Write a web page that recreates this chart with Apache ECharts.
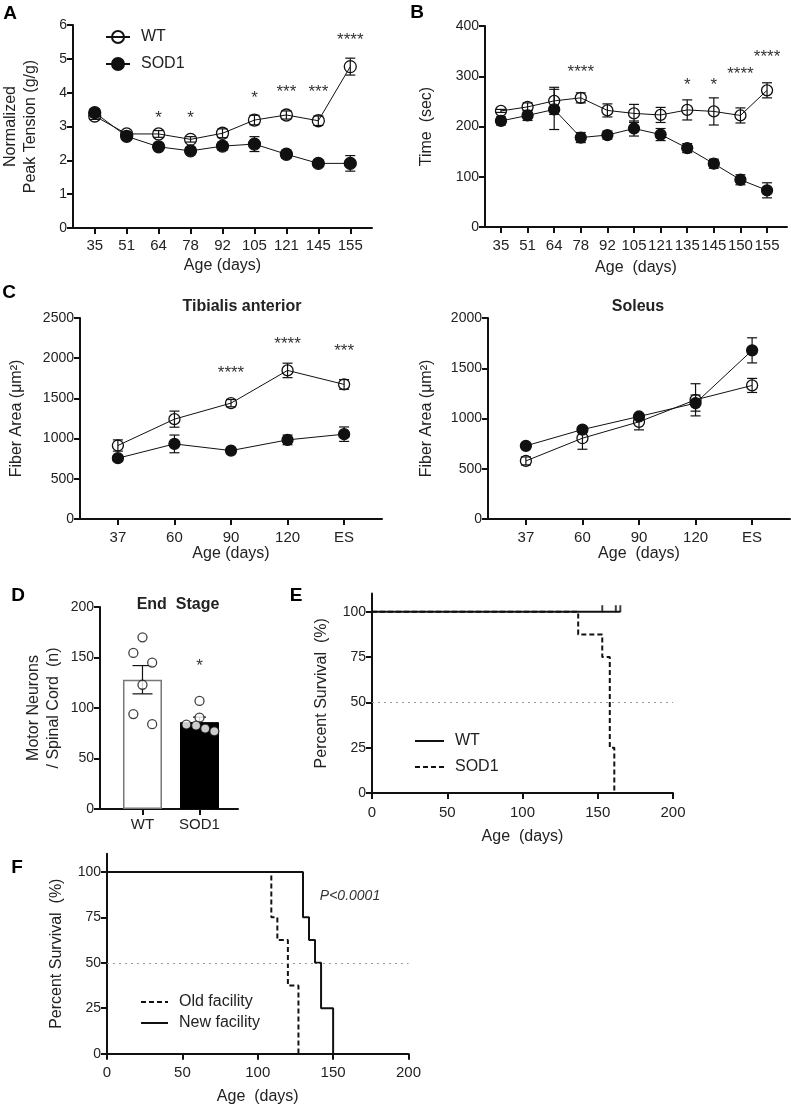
<!DOCTYPE html>
<html><head><meta charset="utf-8">
<script src="https://cdn.jsdelivr.net/npm/echarts@6/dist/echarts.min.js"></script>
<style>html,body{margin:0;padding:0;background:#fff}#c{width:791px;height:1109px}</style>
</head><body><div id="c"></div>
<script>
// ---------------- DATA ----------------
// Panel A: normalized peak tension (g/g)
const agesA = ['35','51','64','78','92','105','121','145','155'];
const wtA = [3.31,2.78,2.78,2.62,2.80,3.19,3.34,3.17,4.77];
const wtA_sem = [0.10,0.05,0.10,0.08,0.13,0.14,0.12,0.14,0.25];
const sodA = [3.41,2.71,2.40,2.28,2.42,2.48,2.18,1.91,1.91];
const sodA_sem = [0.12,0.05,0.05,0.08,0.12,0.22,0.12,0.10,0.23];
const sigA_idx = [2,3,5,6,7,8];
const sigA_txt = ['*','*','*','***','***','****'];
const sigA_y = [3.34,3.34,3.93,4.1,4.1,5.65];
const ticksA = [0,1,2,3,4,5,6];

// Panel B: rotarod time (sec)
const agesB = ['35','51','64','78','92','105','121','135','145','150','155'];
const wtB = [231,239,251,257,232,226,223,233,230,222,272];
const wtB_sem = [3,8,27,10,13,18,15,20,27,15,15];
const sodB = [211,222,234,178,183,196,184,157,126,94,73];
const sodB_sem = [8,10,40,10,8,15,12,9,9,10,15];
const sigB_idx = [3,7,8,9,10];
const sigB_txt = ['****','*','*','****','****'];
const sigB_y = [314,287,287,310,344];
const ticksB = [0,100,200,300,400];

// Panel C: fiber area (um^2)
const agesC = ['37','60','90','120','ES'];
const wtTA = [914,1242,1441,1848,1674];
const wtTA_sem = [70,100,45,90,60];
const sodTA = [756,934,851,984,1055];
const sodTA_sem = [30,110,30,60,90];
const sigTA_idx = [2,3,4];
const sigTA_txt = ['****','****','***'];
const sigTA_y = [1847,2208,2126];
const ticksTA = [0,500,1000,1500,2000,2500];
const wtSol = [578,804,967,1186,1329];
const wtSol_sem = [40,110,80,160,70];
const sodSol = [728,890,1020,1153,1678];
const sodSol_sem = [20,25,25,80,125];
const ticksSol = [0,500,1000,1500,2000];

// Panel D: motor neurons at end stage
const groupsD = ['WT','SOD1'];
const meanD = [128,86];
const semD = [14,5];
const ptsWT = [170,154.5,145,123,94,84];
const ptsSOD = [107,90.5,83.6,82.6,79.6,76.9];
const sigD_txt = ['','*'];
const sigD_y = [null,144];
const ticksD = [0,50,100,150,200];

// Panel E: survival (death ages, percent surviving after)
const sodE_t = [0,137,153,158,161];
const sodE_s = [100,87.5,75,25,0];
const wtE_t = [0,165];
const wtE_s = [100,100];
const wtE_censor = [153,162,165];

// Panel F: survival old vs new facility
const oldF_t = [0,109,113,120,127];
const oldF_s = [100,75,62.5,37.5,0];
const newF_t = [0,130,134,138,142,150];
const newF_s = [100,75,62.5,50,25,0];
const ticksSurv = [0,25,50,75,100];
const ticksAge = [0,50,100,150,200];
const medianLine = 50;

// ---------------- LAYOUT / STYLE ----------------
const FONT = '"Liberation Sans", Arial, Helvetica, sans-serif';
const INK = '#111', TXT = '#222';
const jitWT = [0,-0.16,0.17,0,-0.16,0.17];
const jitSOD = [0,0,-0.23,-0.06,0.1,0.26];

function xCat(gridIndex, labels, min, max, name, nameGap, margin) {
  const idx = labels.map((_, i) => i);
  return {
    type:'value', gridIndex, min, max, name, nameLocation:'middle', nameGap,
    nameTextStyle:{fontFamily:FONT,fontSize:16,color:TXT},
    axisLine:{show:true,onZero:false,lineStyle:{color:INK,width:2}},
    axisTick:{show:true,length:6,lineStyle:{color:INK,width:2},customValues:idx},
    axisLabel:{customValues:idx,margin,fontFamily:FONT,fontSize:15,color:TXT,hideOverlap:false,
      formatter:v=>labels[Math.round(v)]},
    splitLine:{show:false}
  };
}
function xNum(gridIndex, ticks, name, nameGap, margin) {
  return {
    type:'value', gridIndex, min:ticks[0], max:ticks[ticks.length-1], name, nameLocation:'middle', nameGap,
    nameTextStyle:{fontFamily:FONT,fontSize:16,color:TXT},
    axisLine:{show:true,onZero:false,lineStyle:{color:INK,width:2}},
    axisTick:{show:true,length:6,lineStyle:{color:INK,width:2},customValues:ticks},
    axisLabel:{customValues:ticks,margin,fontFamily:FONT,fontSize:15,color:TXT,formatter:v=>String(v)},
    splitLine:{show:false}
  };
}
function yNum(gridIndex, ticks, max, name, nameGap) {
  return {
    type:'value', gridIndex, min:0, max, name, nameLocation:'middle', nameGap, nameRotate:90,
    nameTextStyle:{fontFamily:FONT,fontSize:16,color:TXT,lineHeight:20},
    axisLine:{show:true,onZero:false,lineStyle:{color:INK,width:2}},
    axisTick:{show:true,length:6,lineStyle:{color:INK,width:2},customValues:ticks},
    axisLabel:{customValues:ticks,margin:6,fontFamily:FONT,fontSize:14,color:TXT,formatter:v=>String(v)},
    splitLine:{show:false}
  };
}
function errSeries(gi, means, sems, caps, z) {
  return {
    type:'custom', xAxisIndex:gi, yAxisIndex:gi, silent:true, z:z||4,
    data: means.map((m,i)=>[i,m,sems[i]]),
    encode:{x:0,y:1},
    renderItem:(params, api)=>{
      const x=api.value(0), y=api.value(1), e=api.value(2);
      const hi=api.coord([x,y+e]), lo=api.coord([x,y-e]);
      const w=(Array.isArray(caps)?caps[params.dataIndex]:caps)/2;
      const st={stroke:INK,lineWidth:1.2};
      return {type:'group',children:[
        {type:'line',shape:{x1:hi[0],y1:hi[1],x2:lo[0],y2:lo[1]},style:st},
        {type:'line',shape:{x1:hi[0]-w,y1:hi[1],x2:hi[0]+w,y2:hi[1]},style:st},
        {type:'line',shape:{x1:lo[0]-w,y1:lo[1],x2:lo[0]+w,y2:lo[1]},style:st}
      ]};
    }
  };
}
function sigSeries(gi, idx, txt, ys) {
  return {
    type:'custom', xAxisIndex:gi, yAxisIndex:gi, silent:true, z:6,
    data: idx.map((p,k)=>[p,ys[k]]), encode:{x:0,y:1},
    renderItem:(params, api)=>{
      const pt=api.coord([api.value(0),api.value(1)]);
      return {type:'text',x:pt[0],y:pt[1]+3,style:{text:txt[params.dataIndex],align:'center',verticalAlign:'middle',font:'17px '+FONT,fill:'#333'}};
    }
  };
}
function lineSeries(gi, name, vals, filled, size) {
  return {
    type:'line', name, xAxisIndex:gi, yAxisIndex:gi, data: vals.map((v,i)=>[i,v]),
    symbol:'circle', symbolSize:size, showAllSymbol:true, z:3,
    lineStyle:{color:INK,width:1},
    itemStyle:{color: filled ? INK : 'rgba(255,255,255,0)', borderColor:INK, borderWidth:1.3},
    emphasis:{disabled:true}
  };
}
function stepSeries(gi, name, ts, ss, dashed, extra) {
  return Object.assign({
    type:'line', name, xAxisIndex:gi, yAxisIndex:gi, step:'end', symbol:'none',
    data: ts.map((t,i)=>[t,ss[i]]),
    lineStyle:{color:INK,width:2,type: dashed ? [5,3] : 'solid'},
    itemStyle:{color:INK}, emphasis:{disabled:true}, z:3
  }, extra||{});
}
const medianMark = {silent:true,symbol:'none',label:{show:false},
  lineStyle:{type:[2,4],color:'#999',width:1.2}, data:[{yAxis:medianLine}]};

const grids = [
  {left:71, top:25, width:301, height:203},     // A
  {left:485, top:26, width:302, height:201},    // B
  {left:80, top:318, width:302, height:201},    // C TA
  {left:488, top:318, width:302, height:201},   // C Soleus
  {left:100, top:607, width:138, height:202},   // D
  {left:372, top:593.6, width:301, height:199.4}, // E
  {left:107, top:853.7, width:301.5, height:200}  // F
];

const xAxes = [
  xCat(0, agesA, -0.68, 8.68, 'Age (days)', 30, 10),
  xCat(1, agesB, -0.6, 10.75, 'Age  (days)', 33, 11),
  xCat(2, agesC, -0.67, 4.67, 'Age (days)', 27, 11),
  xCat(3, agesC, -0.67, 4.67, 'Age  (days)', 27, 11),
  xCat(4, groupsD, -0.745, 1.675, '', 0, 8),
  xNum(5, ticksAge, 'Age  (days)', 36, 12),
  xNum(6, ticksAge, 'Age  (days)', 35, 12)
];
const yAxes = [
  yNum(0, ticksA, 6, 'Normalized\nPeak Tension (g/g)', 32),
  yNum(1, ticksB, 400, 'Time  (sec)', 48),
  yNum(2, ticksTA, 2500, 'Fiber Area (\u03bcm\u00b2)', 53),
  yNum(3, ticksSol, 2000, 'Fiber Area (\u03bcm\u00b2)', 51),
  yNum(4, ticksD, 200, 'Motor Neurons\n/ Spinal Cord  (n)', 36),
  yNum(5, ticksSurv, 110, 'Percent Survival  (%)', 40),
  yNum(6, ticksSurv, 110, 'Percent Survival  (%)', 40)
];

const series = [];
// A
series.push(lineSeries(0,'WT',wtA,false,12), lineSeries(0,'SOD1',sodA,true,12),
  errSeries(0,wtA,wtA_sem,10), errSeries(0,sodA,sodA_sem,10), sigSeries(0,sigA_idx,sigA_txt,sigA_y));
// B
series.push(lineSeries(1,'WT',wtB,false,11), lineSeries(1,'SOD1',sodB,true,11),
  errSeries(1,wtB,wtB_sem,10), errSeries(1,sodB,sodB_sem,10), sigSeries(1,sigB_idx,sigB_txt,sigB_y));
// C
series.push(lineSeries(2,'WT',wtTA,false,11), lineSeries(2,'SOD1',sodTA,true,11),
  errSeries(2,wtTA,wtTA_sem,10), errSeries(2,sodTA,sodTA_sem,10), sigSeries(2,sigTA_idx,sigTA_txt,sigTA_y));
series.push(lineSeries(3,'WT',wtSol,false,11), lineSeries(3,'SOD1',sodSol,true,11),
  errSeries(3,wtSol,wtSol_sem,10), errSeries(3,sodSol,sodSol_sem,10));
// D
const barStyles = [{color:'#fff',borderColor:'#777',borderWidth:1.5},{color:'#000',borderColor:'#000',borderWidth:1}];
series.push({type:'bar', xAxisIndex:4, yAxisIndex:4, barWidth:39, silent:true, z:2,
  data: meanD.map((v,i)=>({value:[i,v], itemStyle:barStyles[i]}))});
series.push(errSeries(4, meanD, semD, [20,13], 3));
series.push({type:'scatter', xAxisIndex:4, yAxisIndex:4, symbol:'circle', symbolSize:9, silent:true, z:5,
  itemStyle:{color:'#fff',borderColor:INK,borderWidth:1.3},
  data: ptsWT.map((v,k)=>[0+jitWT[k],v]).concat(ptsSOD.map((v,k)=>[1+jitSOD[k],v]))});
series.push(sigSeries(4,[1],[sigD_txt[1]],[sigD_y[1]]));
// E
series.push(stepSeries(5,'E|WT',wtE_t,wtE_s,false));
series.push(stepSeries(5,'E|SOD1',sodE_t,sodE_s,true,{markLine:medianMark}));
series.push({type:'scatter', xAxisIndex:5, yAxisIndex:5, symbol:'rect', symbolSize:[2,7], symbolOffset:[0,-3],
  silent:true, itemStyle:{color:INK}, data: wtE_censor.map(t=>[t,100])});
// F
series.push(stepSeries(6,'F|Old facility',oldF_t,oldF_s,true,{markLine:medianMark}));
series.push(stepSeries(6,'F|New facility',newF_t,newF_s,false));

const legTxt = {fontFamily:FONT,fontSize:16,color:TXT,padding:[0,0,0,6]};
const noSym = {color:'rgba(0,0,0,0)',borderColor:'rgba(0,0,0,0)',borderWidth:0};
const legends = [
  {data:['WT','SOD1'], left:100, top:24, orient:'vertical', itemWidth:24, itemHeight:15, itemGap:11,
   textStyle:legTxt, selectedMode:false},
  {data:['E|WT','E|SOD1'], left:409, top:728, orient:'vertical', itemWidth:29, itemHeight:10, itemGap:10,
   textStyle:legTxt, selectedMode:false, itemStyle:noSym, formatter:n=>n.split('|')[1]},
  {data:['F|Old facility','F|New facility'], left:135, top:989, orient:'vertical', itemWidth:27, itemHeight:10, itemGap:5,
   textStyle:legTxt, selectedMode:false, itemStyle:noSym, formatter:n=>n.split('|')[1]}
];

const letters = [['A',10,14],['B',417,13],['C',9,293],['D',18,596],['E',296,596],['F',17,868]];
const titles = [['Tibialis anterior',242,307],['Soleus',638,307],['End  Stage',178,605]];
const graphic = letters.map(([t,x,y])=>({type:'text',x,y,silent:true,
    style:{text:t,font:'bold 19px '+FONT,fill:'#000',align:'center',verticalAlign:'middle'}}))
  .concat(titles.map(([t,x,y])=>({type:'text',x,y,silent:true,
    style:{text:t,font:'bold 16px '+FONT,fill:'#222',align:'center',verticalAlign:'middle'}})))
  .concat([{type:'text',x:350,y:896,silent:true,
    style:{text:'P<0.0001',font:'italic 14px '+FONT,fill:'#333',align:'center',verticalAlign:'middle'}}]);

const chart = echarts.init(document.getElementById('c'), null, {renderer:'canvas'});
chart.setOption({
  animation:false, backgroundColor:'#fff',
  textStyle:{fontFamily:FONT},
  grid:grids, xAxis:xAxes, yAxis:yAxes, series, legend:legends, graphic
});
</script></body></html>
